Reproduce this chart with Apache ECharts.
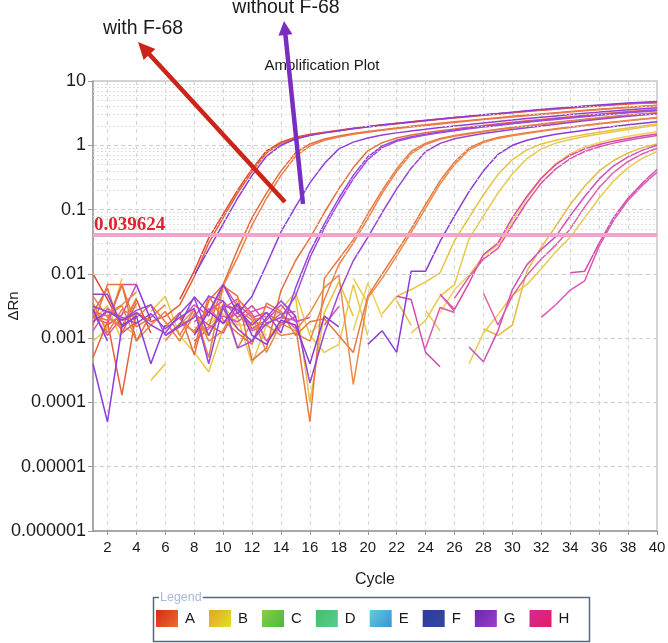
<!DOCTYPE html>
<html><head><meta charset="utf-8">
<style>html,body{margin:0;padding:0;background:#fff}#chart{width:668px;height:643px}</style>
<script src="https://cdn.jsdelivr.net/npm/echarts/dist/echarts.min.js"></script>
</head><body><div id="chart"></div>
<script>
const _ = null;
const cycles = [1,2,3,4,5,6,7,8,9,10,11,12,13,14,15,16,17,18,19,20,21,22,23,24,25,26,27,28,29,30,31,32,33,34,35,36,37,38,39,40];
const yTickLabels = ['0.000001','0.00001','0.0001','0.001','0.01','0.1','1','10'];
const legendNames = ['A','B','C','D','E','F','G','H'];
const threshold = 0.039624;
const thresholdLabel = '0.039624';
const chartTitle = 'Amplification Plot';
const noteWith = 'with F-68';
const noteWithout = 'without F-68';

// ΔRn per cycle (1..40) for each well; null = not plotted (negative after baseline)
const wellA1 = [0.010,0.004,0.0015,0.004,0.0012,_,0.004,0.011,0.036,0.085, 0.2,0.43,0.82,1.12,1.33,1.48,1.6,1.72,1.84,1.96, 2.08,2.2,2.32,2.45,2.57,2.7,2.83,2.96,3.1,3.25, 3.4,3.55,3.7,3.85,4.0,4.15,4.3,4.45,4.55,4.65];
const wellA2 = [0.0005,0.0018,0.00013,0.0025,0.0018,0.0022,0.0033,0.009,0.03,0.075, 0.18,0.39,0.76,1.07,1.29,1.45,1.57,1.69,1.81,1.93, 2.05,2.17,2.29,2.41,2.53,2.66,2.79,2.92,3.05,3.2, 3.35,3.5,3.65,3.8,3.95,4.1,4.25,4.38,4.5,4.6];
const wellA3 = [0.0025,0.006,0.0012,0.0035,_,0.0015,0.0025,0.00055,0.0038,0.0068, 0.024,0.075,0.18,0.4,0.76,1.05,1.25,1.4,1.52,1.64, 1.75,1.86,1.97,2.08,2.2,2.32,2.44,2.56,2.69,2.82, 2.95,3.08,3.22,3.36,3.5,3.64,3.78,3.92,4.05,4.18];
const wellA4 = [_,0.0022,0.0032,0.0009,0.0016,0.0026,0.0011,0.0028,0.0005,0.0065, 0.018,0.058,0.15,0.34,0.67,0.98,1.2,1.35,1.48,1.6, 1.71,1.82,1.93,2.04,2.15,2.27,2.39,2.51,2.63,2.76, 2.89,3.02,3.16,3.3,3.44,3.58,3.72,3.86,4.0,4.12];
const wellA5 = [0.0022,0.0019,0.0068,0.0009,0.0024,_,0.0021,0.0012,0.0015,0.0065, 0.0045,0.00045,0.0007,0.0055,0.016,0.036,0.09,0.21,0.45,0.82, 1.1,1.3,1.45,1.57,1.68,1.8,1.92,2.04,2.16,2.28, 2.4,2.52,2.65,2.78,2.92,3.06,3.2,3.34,3.48,3.6];
const wellA6 = [0.0035,0.0012,0.0028,0.0021,0.0033,0.0018,0.0009,0.0024,0.0011,0.0034, 0.0028,0.0019,0.0022,_,0.0016,0.00005,0.0085,0.017,0.034,0.085, 0.2,0.43,0.8,1.08,1.28,1.42,1.54,1.66,1.78,1.9, 2.02,2.15,2.28,2.41,2.55,2.69,2.83,2.97,3.1,3.22];
const wellA7 = [0.0045,0.0021,0.0015,0.0042,_,0.0009,0.0017,0.0013,0.0026,0.0031, 0.0007,0.0018,0.0016,0.0011,0.0012,0.0009,0.004,0.014,0.03,0.072, 0.18,0.39,0.74,1.03,1.24,1.38,1.5,1.62,1.74,1.86, 1.98,2.1,2.23,2.36,2.5,2.64,2.78,2.92,3.05,3.17];
const wellA8 = [0.0016,0.0068,0.0068,0.0015,0.0021,0.0033,_,0.0007,0.0046,0.0019, 0.0012,0.0008,0.0035,0.0026,0.0011,0.0018,0.002,0.0011,0.0006,0.0045, 0.01,0.022,0.05,0.12,0.28,0.55,0.9,1.15,1.32,1.45, 1.57,1.69,1.81,1.93,2.05,2.18,2.31,2.44,2.57,2.7];
const wellA9 = [_,0.0025,0.0033,0.0052,_,_,0.0016,0.0028,0.0009,0.0013, 0.0041,0.0022,0.0006,0.0017,0.0013,0.0025,0.0061,0.0095,0.00019,0.0042, 0.0085,0.019,0.044,0.105,0.25,0.5,0.85,1.1,1.28,1.41, 1.53,1.65,1.77,1.89,2.01,2.14,2.27,2.4,2.53,2.66];

const wellG1 = [0.0004,0.00005,0.0015,0.0022,0.0004,0.0016,_,0.0095,0.024,0.06, 0.15,0.34,0.68,1.0,1.25,1.42,1.56,1.69,1.82,1.94, 2.06,2.18,2.3,2.43,2.56,2.7,2.84,2.98,3.12,3.28, 3.44,3.6,3.76,3.92,4.08,4.24,4.4,4.55,4.68,4.8];
const wellG2 = [0.0048,0.0048,0.0016,0.0021,_,0.0011,0.0016,0.0044,0.0025,0.0068, 0.0024,0.0045,0.014,0.045,0.11,0.26,0.52,0.88,1.12,1.3, 1.44,1.56,1.67,1.78,1.89,2.0,2.11,2.23,2.35,2.47, 2.6,2.73,2.86,3.0,3.14,3.28,3.42,3.56,3.7,3.84];
const wellG3 = [0.0031,0.0026,0.0021,0.0017,0.0024,0.0014,0.0021,0.0029,0.0004,0.0032, 0.0028,0.0016,0.0025,0.0012,0.006,0.022,0.06,0.15,0.34,0.66, 0.98,1.2,1.36,1.49,1.61,1.73,1.85,1.97,2.09,2.21, 2.33,2.45,2.58,2.71,2.85,2.99,3.13,3.27,3.4,3.52];
const wellG4 = [0.0016,_,0.0019,0.0027,0.0033,0.0011,0.0015,0.0021,0.0045,0.0038, 0.0007,0.0009,0.0017,0.0021,0.0045,0.018,0.052,0.13,0.3,0.6, 0.92,1.15,1.31,1.44,1.56,1.68,1.8,1.92,2.04,2.16, 2.28,2.4,2.52,2.65,2.78,2.92,3.06,3.2,3.33,3.45];
const wellG5 = [0.0018,0.0026,0.0019,0.0025,0.0016,0.0012,0.0024,0.0042,0.0011,0.0029, 0.0014,0.0009,0.0021,0.0038,0.0022,0.0002,0.0012,0.005,0.016,0.037, 0.09,0.21,0.44,0.8,1.07,1.26,1.4,1.52,1.64,1.76, 1.88,2.0,2.13,2.26,2.4,2.54,2.68,2.82,2.96,3.1];
const wellG6 = [0.0028,0.0009,_,0.0068,0.0019,_,_,0.0011,0.0026,0.0017, 0.0035,0.0011,0.0008,0.0019,0.0016,0.0004,0.0022,0.0015,_,0.0008, 0.0013,0.0006,0.011,0.011,0.032,0.08,0.19,0.4,0.72,1.0, 1.2,1.35,1.48,1.6,1.72,1.84,1.96,2.08,2.2,2.32];

const wellB1 = [0.0028,0.0014,0.0085,_,0.00022,0.0004,_,0.0015,0.0011,0.0032, 0.0016,0.0016,0.0009,0.0019,0.0045,0.0001,0.0025,0.0075,0.0022,_, 0.0024,0.0045,0.0057,0.0075,0.0104,0.033,0.075,0.17,0.35,0.6, 0.85,1.05,1.2,1.34,1.47,1.6,1.73,1.86,2.0,2.15];
const wellB2 = [0.0019,0.0032,0.0009,_,0.0026,0.0045,0.0011,0.0006,0.0003,0.0014, 0.0021,0.0004,0.0016,0.0028,0.0052,0.0011,0.0006,0.0008,0.0068,0.0011, _,_,0.0012,0.0019,0.0045,0.0068,0.035,0.08,0.18,0.36, 0.62,0.88,1.08,1.23,1.37,1.5,1.63,1.76,1.9,2.05];
const wellB3 = [0.0012,_,0.0024,0.0031,_,_,_,0.0008,0.0019,0.0023, 0.0014,0.0009,0.0021,_,_,0.0012,0.0019,_,0.0013,0.0072, 0.0021,_,_,_,0.0025,0.0057,0.0095,0.019,0.028,0.066, 0.15,0.3,0.52,0.74,0.94,1.1,1.25,1.38,1.5,1.62];
const wellB4 = [_,0.0022,0.0016,0.0011,_,_,_,0.0013,_,0.0017, 0.0026,_,0.0009,0.0015,_,_,_,_,_,_, _,0.0038,0.0016,_,_,_,_,0.0014,0.0011,0.0016, 0.011,0.026,0.055,0.12,0.23,0.4,0.58,0.76,0.92,1.05];
const wellB5 = [0.0009,0.0014,_,0.0018,_,_,_,_,0.0016,0.0025, _,0.0018,0.0011,_,_,_,_,_,0.0085,0.0035, _,_,_,0.0027,0.0013,_,0.0004,0.0012,0.0023,0.0047, 0.0068,0.012,0.022,0.037,0.075,0.15,0.28,0.45,0.63,0.8];

const wellH1 = [0.0021,0.0017,0.0068,0.0068,_,_,_,0.0024,0.0016,0.0012, 0.0034,0.0021,0.0025,0.0017,0.0021,_,_,_,_,_, _,_,_,_,0.0048,0.0028,0.0072,0.02,0.03,0.075, 0.16,0.31,0.5,0.7,0.88,1.03,1.16,1.28,1.39,1.5];
const wellH2 = [0.0013,0.0029,0.0019,0.0024,_,_,_,0.0009,0.0014,0.0022, 0.0018,0.0026,0.0031,0.0024,0.0026,_,0.0016,0.0031,_,_, _,_,_,_,_,0.0042,0.009,0.017,0.025,0.058, 0.13,0.26,0.43,0.62,0.8,0.95,1.08,1.2,1.31,1.42];
const wellH3 = [0.0036,_,0.0012,0.0018,_,_,0.0019,0.0033,0.0022,0.0069, 0.0031,0.0014,0.0019,0.0033,0.0018,0.0021,_,_,_,_, _,_,_,_,_,_,0.00073,0.00043,0.0013,0.0057, 0.0138,0.024,0.038,0.08,0.16,0.3,0.48,0.66,0.84,1.0];
const wellH4 = [0.0024,0.0011,0.0021,_,_,_,_,0.0012,0.0029,0.0017, 0.0025,0.0013,0.0016,0.0024,0.0014,_,_,_,_,_, _,_,_,_,0.0048,0.0026,_,0.005,0.0016,0.0045, 0.0095,0.017,0.028,0.05,0.11,0.22,0.38,0.56,0.74,0.9];
const wellH5 = [_,0.0016,0.0023,0.0068,_,_,_,0.0018,0.0026,0.0038, 0.0021,0.0032,0.0017,0.0021,0.0019,_,_,_,_,_, _,0.0045,0.004,0.0006,0.00036,_,_,_,_,_, _,_,_,0.0104,0.011,0.03,0.075,0.15,0.26,0.42];
const wellH6 = [0.0026,0.0022,0.0014,_,_,_,0.0016,0.0021,_,0.0029, 0.0041,0.0024,0.0009,0.0016,0.0022,_,_,_,_,_, _,_,_,0.0007,0.003,0.0025,_,_,_,_, _,0.0021,0.0033,0.0056,0.0078,0.027,0.068,0.14,0.24,0.38];

const wells = [
  {group:'B', data:wellB1},{group:'B', data:wellB2},{group:'B', data:wellB3},{group:'B', data:wellB4},{group:'B', data:wellB5},
  {group:'H', data:wellH1},{group:'H', data:wellH2},{group:'H', data:wellH3},{group:'H', data:wellH4},{group:'H', data:wellH5},{group:'H', data:wellH6},
  {group:'A', data:wellA1},{group:'A', data:wellA2},{group:'A', data:wellA3},{group:'A', data:wellA4},{group:'A', data:wellA5},{group:'A', data:wellA6},{group:'A', data:wellA7},{group:'A', data:wellA8},{group:'A', data:wellA9},
  {group:'G', data:wellG1},{group:'G', data:wellG2},{group:'G', data:wellG3},{group:'G', data:wellG4},{group:'G', data:wellG5},{group:'G', data:wellG6}
];

// styles
const wellColors = [
  '#e8c23c','#e6c848','#edd05a','#e4bc40','#ecc850',
  '#d84aa8','#e052b0','#d050b8','#e060a8','#d44cb0','#dc58b4',
  '#e24a2c','#e8603a','#e86a3c','#ee7d45','#e8703c','#ea7a42','#e88448','#e8763e','#ec8a4a',
  '#8c3cdc','#9040d8','#9646dc','#a04ce0','#9a44d8','#8e3ad6'
];
const legendGradients = {
  A:['#d42a1c','#ee6c2c'], B:['#e0a424','#e6e024'], C:['#86d046','#4cb83e'], D:['#44bd6c','#5ccc92'],
  E:['#62cce0','#3a92d2'], F:['#2e3c9c','#34469e'], G:['#6a28ae','#9c3ec8'], H:['#d42a96','#ea1868']
};
function grad(c){return {type:'linear',x:0,y:0,x2:1,y2:1,colorStops:[{offset:0,color:c[0]},{offset:1,color:c[1]}]};}

const minorLines = [];
for (let e=-6; e<=0; e++) for (let m=2; m<=9; m++) minorLines.push({yAxis: Number((m*Math.pow(10,e)).toPrecision(3))});

const FONT = 'Liberation Sans, Arial, Helvetica, sans-serif';
const evenCycle = (i, v) => Number(v) % 2 === 0;

const series = wells.map((w, i) => ({
  type:'line', name:w.group, data:w.data, symbol:'none', showSymbol:false, connectNulls:false,
  lineStyle:{width:1.5, color:wellColors[i]}, itemStyle:{color:wellColors[i]}, silent:true, z:3
}));
['C','D','E','F'].forEach(n => series.push({type:'line', name:n, data:[]}));
series.push({
  type:'line', name:'minor', data:[], z:1, silent:true,
  markLine:{silent:true, symbol:'none', animation:false, label:{show:false},
    lineStyle:{type:[1.5,2.5], color:'#d6d6d6', width:1}, data:minorLines}
});
series.push({
  type:'line', name:'threshold', data:[], z:10, silent:true,
  markLine:{silent:true, symbol:'none', animation:false,
    lineStyle:{type:'solid', color:'#f4a4cc', width:4},
    label:{show:true, position:'insideStartTop', formatter:thresholdLabel, distance:[1,1],
      color:'#dc2430', fontFamily:'Liberation Serif, Times New Roman, serif', fontWeight:'bold', fontSize:19},
    data:[{yAxis:threshold}]}
});

function arrow(x1, y1, x2, y2, color, width, headLen, headW) {
  const dx = x2 - x1, dy = y2 - y1, L = Math.hypot(dx, dy);
  const ux = dx / L, uy = dy / L, px = -uy, py = ux;
  const bx = x2 - ux * headLen, by = y2 - uy * headLen;
  return [
    {type:'line', shape:{x1:x1, y1:y1, x2:bx + ux*2, y2:by + uy*2}, style:{stroke:color, lineWidth:width}, z:20, silent:true},
    {type:'polygon', shape:{points:[[x2,y2],[bx + px*headW/2, by + py*headW/2],[bx - px*headW/2, by - py*headW/2]]}, style:{fill:color}, z:20, silent:true}
  ];
}

const chart = echarts.init(document.getElementById('chart'), null, {renderer:'canvas'});
chart.setOption({
  animation:false,
  backgroundColor:'#ffffff',
  textStyle:{fontFamily:FONT},
  grid:{left:93, right:11, top:81, bottom:112, show:true, borderColor:'#c6c6c6', borderWidth:1.5, containLabel:false, outerBoundsMode:'none'},
  xAxis:{
    type:'category', data:cycles, boundaryGap:false,
    axisLine:{lineStyle:{color:'#9a9a9a', width:1.5}},
    axisTick:{show:true, interval:evenCycle, length:4, lineStyle:{color:'#9a9a9a'}},
    axisLabel:{interval:evenCycle, fontSize:15, color:'#1a1a1a', margin:9, fontFamily:FONT, hideOverlap:false},
    splitLine:{show:true, interval:evenCycle, lineStyle:{type:[4,4], color:'#d4d4d4', width:1}},
    name:'Cycle', nameLocation:'middle', nameGap:41, nameMoveOverlap:false,
    nameTextStyle:{fontSize:16, color:'#1a1a1a', fontFamily:FONT}
  },
  yAxis:{
    type:'log', logBase:10, min:1e-6, max:10, splitNumber:7,
    axisLine:{show:true, lineStyle:{color:'#9a9a9a', width:1.5}},
    axisTick:{show:true, length:5, lineStyle:{color:'#9a9a9a'}},
    axisLabel:{formatter:v => yTickLabels[Math.round(Math.log10(v)) + 6], fontSize:18, color:'#1a1a1a', margin:7, fontFamily:FONT},
    splitLine:{show:true, lineStyle:{type:[4,3], color:'#cccccc', width:1}},
    name:'ΔRn', nameLocation:'middle', nameGap:72, nameRotate:90, nameMoveOverlap:false,
    nameTextStyle:{fontSize:15, color:'#1a1a1a', fontFamily:FONT}
  },
  legend:{
    data:legendNames.map(n => ({name:n, itemStyle:{color:grad(legendGradients[n])}})),
    left:156, top:610, itemWidth:22, itemHeight:17, itemGap:14, icon:'rect', selectedMode:false,
    padding:0, textStyle:{fontSize:15, color:'#1a1a1a', fontFamily:FONT, padding:[0,0,0,2]}
  },
  graphic:[
    {type:'rect', shape:{x:153.5, y:597.5, width:436, height:44}, style:{fill:'none', stroke:'#55677a', lineWidth:1.5}, silent:true},
    {type:'text', x:159, y:591, style:{text:'Legend', fill:'#a9b8d6', font:'12.5px ' + FONT, backgroundColor:'#ffffff', padding:[0,1,0,1]}, silent:true, z:5},
    {type:'text', x:322, y:66, style:{text:chartTitle, fill:'#1a1a1a', font:'15px ' + FONT, textAlign:'center', textVerticalAlign:'middle'}, silent:true},
    {type:'text', x:143, y:29, style:{text:noteWith, fill:'#1a1a1a', font:'19.5px ' + FONT, textAlign:'center', textVerticalAlign:'middle'}, silent:true},
    {type:'text', x:286, y:8, style:{text:noteWithout, fill:'#1a1a1a', font:'19.5px ' + FONT, textAlign:'center', textVerticalAlign:'middle'}, silent:true},
    ...arrow(285, 202, 138, 42, '#cc2418', 4.5, 17, 16),
    ...arrow(303, 204, 284, 21, '#7a2ec0', 4.5, 14, 14)
  ],
  series:series
});
</script></body></html>
